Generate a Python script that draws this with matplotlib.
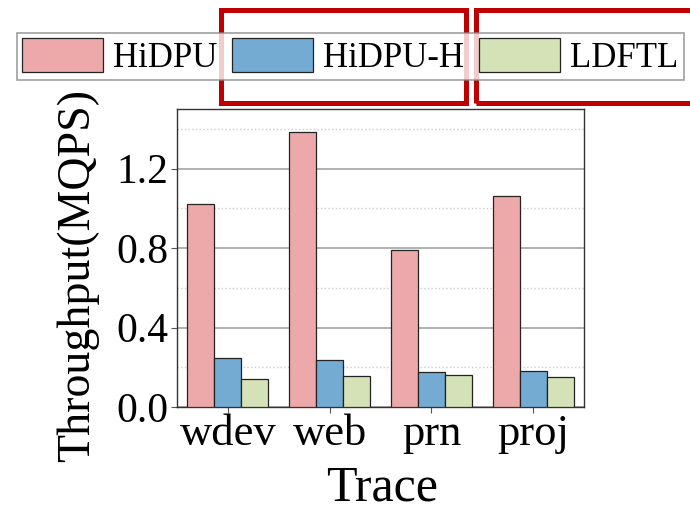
import matplotlib.pyplot as plt
import matplotlib.patches as mpatches
import numpy as np

plt.rcParams['font.family'] = ['Liberation Serif', 'DejaVu Serif']

# data
traces = ['wdev', 'web', 'prn', 'proj']
series = ['HiDPU', 'HiDPU-H', 'LDFTL']
hidpu = [1.02, 1.385, 0.79, 1.062]
hidpu_h = [0.245, 0.235, 0.175, 0.183]
ldftl = [0.141, 0.156, 0.163, 0.149]
colors = ['#EDA9A9', '#74ABD3', '#D5E2B8']

fig = plt.figure(figsize=(6.9, 5.14), dpi=100)
ax = fig.add_axes([0.2565, 0.2082, 0.5899, 0.5798])

x = np.arange(len(traces))
w = 0.265
for i, (vals, name) in enumerate(zip([hidpu, hidpu_h, ldftl], series)):
    ax.bar(x + (i - 1) * w, vals, w, color=colors[i], edgecolor='#222222',
           linewidth=0.9, label=name, zorder=3)

ax.set_xlim(-0.5, 3.5)
ax.set_ylim(0, 1.5)
ax.set_yticks([0.0, 0.4, 0.8, 1.2])
ax.set_yticklabels(['0.0', '0.4', '0.8', '1.2'])
ax.set_yticks([0.2, 0.6, 1.0, 1.4], minor=True)
ax.set_xticks(x)
ax.set_xticklabels(traces)
ax.tick_params(axis='both', labelsize=30, length=4, color='#555555', pad=2)
ax.tick_params(axis='x', labelsize=32, pad=1)
ax.tick_params(axis='y', which='minor', length=0)
ax.grid(axis='y', which='major', color='#aaaaaa', linewidth=1.3, zorder=0)
ax.grid(axis='y', which='minor', color='#cccccc', linewidth=1.0, linestyle=':', zorder=0)
for s in ax.spines.values():
    s.set_color('#333333')
    s.set_linewidth(1.0)

ax.set_xlabel('Trace', fontsize=36, va='bottom')
ax.xaxis.set_label_coords(0.504, -0.35)
ax.set_ylabel('Throughput(MQPS)', fontsize=33, va='center')
ax.yaxis.set_label_coords(-0.243, 0.44)

leg = fig.legend(loc='upper left', bbox_to_anchor=(17 / 690, 1 - 33 / 514), ncol=3,
                 fontsize=25, frameon=True, fancybox=False, handlelength=2.33,
                 handleheight=1.12, handletextpad=0.29, columnspacing=0.43,
                 borderpad=0.15, borderaxespad=0)
leg.get_frame().set_edgecolor('#888888')
leg.get_frame().set_linewidth(1.2)

# red highlight boxes
for x0, x1 in [(221, 466), (476, 700)]:
    fig.patches.append(mpatches.Rectangle((x0 / 690, 1 - 103 / 514), (x1 - x0) / 690, 93 / 514,
                                          transform=fig.transFigure, fill=False,
                                          edgecolor='#C00000', linewidth=3.6))

fig.savefig('out.png', dpi=100)
